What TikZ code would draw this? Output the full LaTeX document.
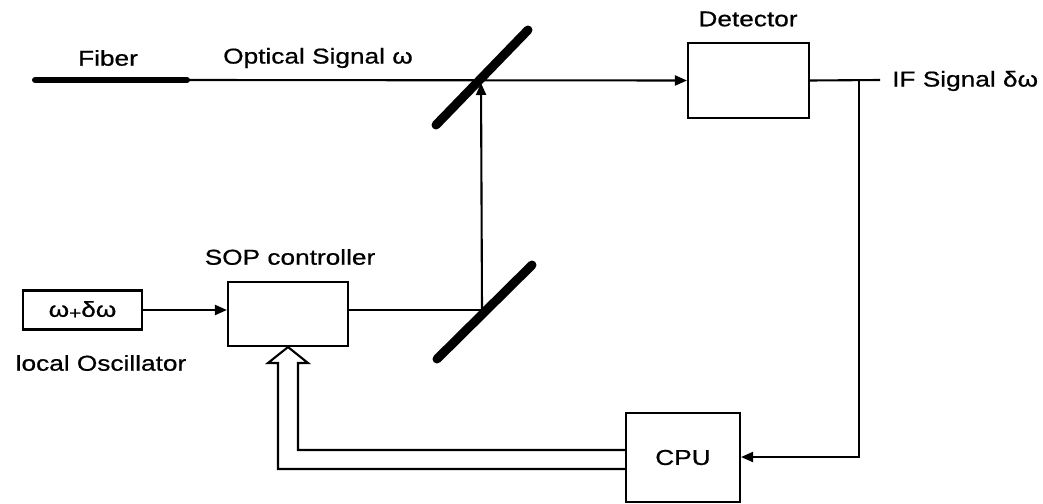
\documentclass[tikz,border=0pt]{standalone}
\usepackage{fontspec}
\setmainfont{Liberation Sans}[FakeStretch=1.22, FakeBold=0.7]
\usetikzlibrary{arrows.meta}
\tikzset{
  box/.style={draw, line width=2.1pt, inner sep=0pt},
  lbl/.style={inner sep=0pt, font=\fontsize{21.5}{24}\selectfont},
  wire/.style={line width=2.1pt},
  arr/.style={wire, -{Triangle[length=12pt, width=10pt]}},
  mirror/.style={line width=9pt, line cap=round},
  fiber/.style={line width=6pt, line cap=round},
}
\begin{document}
\begin{tikzpicture}[x=1pt, y=-1pt]
\useasboundingbox (0,0) rectangle (1043,503);
% boxes
\node[box, minimum width=119pt, minimum height=39pt] (lo) at (82.5,310) {};
\node[lbl] (lotext) at (lo.center) {ω\raisebox{-2pt}{\fontsize{17}{17}\selectfont +}δω};
\node[box, minimum width=120pt, minimum height=64pt] (sop) at (288,314) {};
\node[box, minimum width=121pt, minimum height=75pt] (det) at (748.5,80.5) {};
\node[box, minimum width=114pt, minimum height=89pt] (cpu) at (683,457.5) {};
\node[lbl] (cputext) at (cpu.center) {CPU};
% labels
\node[lbl] (fiblbl) at (108,58) {Fiber};
\node[lbl] (optlbl) at (318,58) {Optical Signal ω};
\node[lbl] (detlbl) at (748,19) {Detector};
\node[lbl, anchor=west] (iflbl) at (892,81) {IF Signal δω};
\node[lbl] (soplbl) at (290,257) {SOP controller};
\node[lbl] (lolbl) at (101,363) {local Oscillator};
% coordinates
\coordinate (fibA) at (35,80);
\coordinate (fibB) at (187,80);
\coordinate (bs1) at (481,80);
\coordinate (bs2) at (482,310);
\coordinate (ifend) at (880,80);
\coordinate (tap) at (859,80);
\coordinate (tapdown) at (859,457);
% mirrors
\draw[mirror] (436,125) -- (528,30);
\draw[mirror] (437,359) -- (532,265);
% fiber and optical path
\draw[fiber] (fibA) -- (fibB);
\draw[arr] (fibB) -- (det.west);
\draw[wire] (det.east) -- (ifend);
% local oscillator path
\draw[arr] (lo.east) -- (lo.east -| sop.west);
\draw[wire] (sop.east |- bs2) -- (bs2);
\draw[arr, shorten >=3pt] (bs2) -- (bs1);
% feedback
\draw[arr] (tap) -- (tapdown) -- (tapdown -| cpu.east);
% hollow arrow from CPU to SOP controller
\draw[wire, line join=miter] (cpu.west |- 0,469) -- (278,469) -- (278,363) -- (268,363) -- (sop.south) -- (308,363) -- (298,363) -- (298,450) -- (cpu.west |- 0,450);
\end{tikzpicture}
\end{document}
